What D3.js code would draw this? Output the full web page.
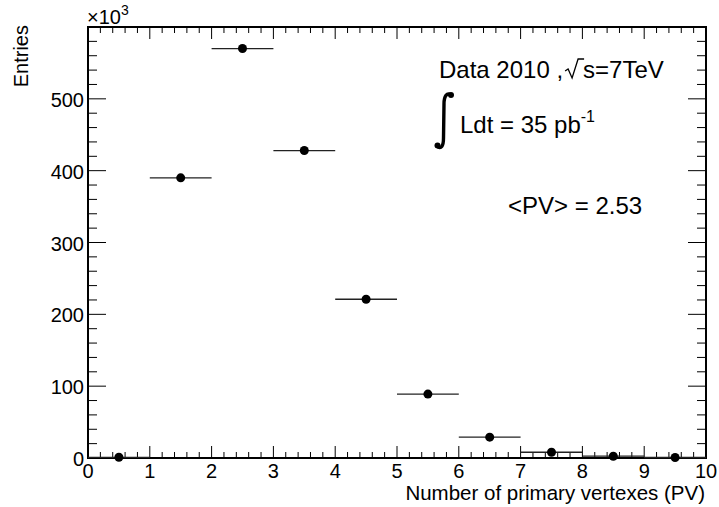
<!DOCTYPE html>
<html>
<head>
<meta charset="utf-8">
<script src="https://cdn.jsdelivr.net/npm/d3@7"></script>
<style>
  body { margin: 0; background: #fff; }
  text { font-family: "Liberation Sans", Arial, sans-serif; fill: #000; }
</style>
</head>
<body>
<div id="main"></div>
<script>
// bins of the PV histogram (lower edge, upper edge), entries in units of 1e3
let binLo = [0, 1, 2, 3, 4, 5, 6, 7, 8, 9];
let binHi = [1, 2, 3, 4, 5, 6, 7, 8, 9, 10];
let entries = [1.0, 390, 570, 428, 221, 89, 29, 8, 2.5, 0.7];
let yTicks = [0, 100, 200, 300, 400, 500];
let xTicks = [0, 1, 2, 3, 4, 5, 6, 7, 8, 9, 10];

let [W, H] = [719, 507];
let m = {left: 88, right: 706, top: 27, bottom: 458};

let svg = d3.select('#main').append('svg')
  .attr('width', W).attr('height', H);

let sx = d3.scaleLinear().domain([0, 10]).range([m.left, m.right]);
let sy = d3.scaleLinear().domain([0, 600]).range([m.bottom, m.top]);

// frame
svg.append('rect')
  .attr('x', m.left).attr('y', m.top)
  .attr('width', m.right - m.left).attr('height', m.bottom - m.top)
  .attr('fill', 'none').attr('stroke', '#000').attr('stroke-width', 2);

// x ticks: bottom + top, major 1, minor 0.2
let xMinor = d3.range(0, 10.001, 0.2);
let tk = svg.append('g').attr('stroke', '#000').attr('stroke-width', 1);
xMinor.forEach(v => {
  let major = Math.abs(v - Math.round(v)) < 1e-6;
  let len = major ? 12 : 6;
  tk.append('line').attr('x1', sx(v)).attr('x2', sx(v))
    .attr('y1', m.bottom).attr('y2', m.bottom - len);
  tk.append('line').attr('x1', sx(v)).attr('x2', sx(v))
    .attr('y1', m.top).attr('y2', m.top + len);
});

// y ticks: left + right, major 100, minor 20
let yMinor = d3.range(0, 600.001, 20);
yMinor.forEach(v => {
  let major = v % 100 === 0;
  let len = major ? 18 : 9;
  tk.append('line').attr('y1', sy(v)).attr('y2', sy(v))
    .attr('x1', m.left).attr('x2', m.left + len);
  tk.append('line').attr('y1', sy(v)).attr('y2', sy(v))
    .attr('x1', m.right).attr('x2', m.right - len);
});

// tick labels
svg.selectAll('.xl').data(xTicks).join('text')
  .attr('class', 'xl')
  .attr('x', d => sx(d)).attr('y', 478)
  .attr('text-anchor', 'middle')
  .style('font-size', '20px')
  .text(d => d);

svg.selectAll('.yl').data(yTicks).join('text')
  .attr('class', 'yl')
  .attr('x', 84).attr('y', d => sy(d) + 8)
  .attr('text-anchor', 'end')
  .style('font-size', '20px')
  .text(d => d);

// exponent
let ex = svg.append('text').attr('x', 87).attr('y', 24).style('font-size', '20px');
ex.append('tspan').text('\u00d710');
ex.append('tspan').attr('dy', -9).style('font-size', '14px').text('3');

// axis titles
svg.append('text')
  .attr('transform', 'translate(28,25) rotate(-90)')
  .attr('text-anchor', 'end')
  .style('font-size', '20px')
  .text('Entries');

svg.append('text')
  .attr('x', 705).attr('y', 500)
  .attr('text-anchor', 'end')
  .style('font-size', '20.5px')
  .text('Number of primary vertexes (PV)');

// data: horizontal bin-width bars + markers
let pts = binLo.map((lo, i) => ({lo, hi: binHi[i], n: entries[i]}));
svg.selectAll('.err').data(pts).join('line')
  .attr('class', 'err')
  .attr('x1', d => sx(d.lo)).attr('x2', d => sx(d.hi))
  .attr('y1', d => sy(d.n)).attr('y2', d => sy(d.n))
  .attr('stroke', '#222').attr('stroke-width', 1.3);
svg.selectAll('.pt').data(pts).join('circle')
  .attr('class', 'pt')
  .attr('cx', d => sx((d.lo + d.hi) / 2)).attr('cy', d => sy(d.n))
  .attr('r', 4.5).attr('fill', '#000');

// annotations
let fs = '24px';
let t1 = svg.append('text').attr('x', 439).attr('y', 78).style('font-size', fs);
let t1a = t1.append('tspan').text('Data 2010 ,');
t1.append('tspan').attr('dx', 20).text('s=7TeV');
// sqrt sign
let sqX = 439 + t1a.node().getComputedTextLength() + 2;
svg.append('path')
  .attr('d', `M${sqX},${71} L${sqX+3},${69} L${sqX+7},${78} L${sqX+13},${59} L${sqX+19},${59}`)
  .attr('fill', 'none').attr('stroke', '#000').attr('stroke-width', 1.3);

// integral sign
svg.append('path')
  .attr('d', 'M437,146 C441,150 443.5,146 443.5,138 L444,104 C444,96 447,92 451,95')
  .attr('fill', 'none').attr('stroke', '#000').attr('stroke-width', 3.4);
svg.append('circle').attr('cx', 437.5).attr('cy', 145.5).attr('r', 3).attr('fill', '#000');
svg.append('circle').attr('cx', 451).attr('cy', 95).attr('r', 3).attr('fill', '#000');

let t2 = svg.append('text').attr('x', 460).attr('y', 133).style('font-size', fs);
t2.append('tspan').text('Ldt = 35 pb');
t2.append('tspan').attr('dy', -11).style('font-size', '16px').text('-1');

svg.append('text').attr('x', 508).attr('y', 214).style('font-size', fs)
  .text('<PV> = 2.53');
</script>
</body>
</html>
